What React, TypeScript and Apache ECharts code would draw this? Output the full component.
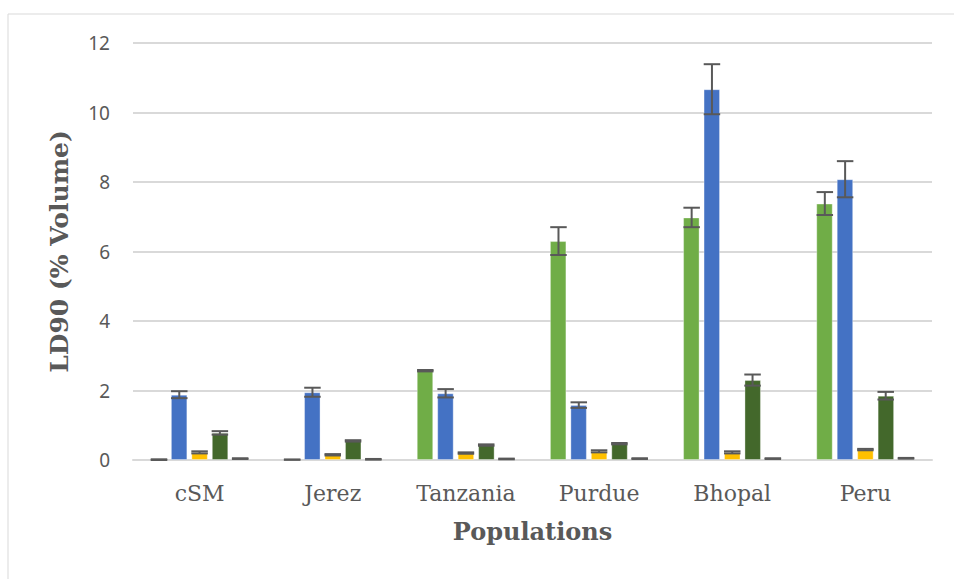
import React, { useEffect, useRef } from "react";
import * as echarts from "echarts";

// Populations on the category axis
const categories = ["cSM", "Jerez", "Tanzania", "Purdue", "Bhopal", "Peru"];

// LD90 means per treatment, one array per bar series
const seriesNames = ["Treatment 1", "Treatment 2", "Treatment 3", "Treatment 4", "Treatment 5"];
const treatment1 = [0.01, 0.01, 2.57, 6.3, 6.98, 7.38];
const treatment2 = [1.88, 1.95, 1.92, 1.58, 10.67, 8.08];
const treatment3 = [0.22, 0.15, 0.2, 0.25, 0.22, 0.3];
const treatment4 = [0.78, 0.55, 0.43, 0.47, 2.3, 1.85];
const treatment5 = [0.04, 0.02, 0.03, 0.04, 0.04, 0.05];

// Error bar half-lengths (same order as the means)
const error1 = [0.01, 0, 0.02, 0.4, 0.28, 0.33];
const error2 = [0.1, 0.13, 0.12, 0.08, 0.72, 0.52];
const error3 = [0.03, 0.02, 0.02, 0.03, 0.03, 0.02];
const error4 = [0.05, 0.02, 0.02, 0.02, 0.16, 0.11];
const error5 = [0.01, 0.01, 0.01, 0.01, 0.01, 0.01];

// Value axis ticks
const yTicks = [0, 2, 4, 6, 8, 10, 12];

const colors = ["#70AD47", "#4472C4", "#FFC000", "#43682B", "#636363"];
const BAR_WIDTH = 16.5;
const BAR_STEP = 20.3;

export default function App() {
  const ref = useRef<HTMLDivElement>(null);

  useEffect(() => {
    if (!ref.current) return;
    const chart = echarts.init(ref.current, null, { renderer: "svg" });

    const means = [treatment1, treatment2, treatment3, treatment4, treatment5];
    const errors = [error1, error2, error3, error4, error5];
    const nSeries = means.length;

    const barSeries = means.map((vals, i) => ({
      name: seriesNames[i],
      type: "bar",
      data: vals,
      barWidth: BAR_WIDTH,
      barGap: "24%",
      itemStyle: {
        color: colors[i],
        borderColor: "rgba(255,255,255,0.35)",
        borderWidth: 1,
      },
      z: 2,
    }));

    const errorData: number[][] = [];
    means.forEach((vals, s) => {
      vals.forEach((v, c) => {
        errorData.push([c, s, v, errors[s][c]]);
      });
    });

    const errorSeries = {
      type: "custom",
      name: "error",
      data: errorData,
      encode: { x: 0, y: 2 },
      z: 5,
      silent: true,
      renderItem: (params: any, api: any) => {
        const c = api.value(0);
        const s = api.value(1);
        const v = api.value(2);
        const e = api.value(3);
        const top = api.coord([c, v + e]);
        const bot = api.coord([c, Math.max(0, v - e)]);
        const x = top[0] + (s - (nSeries - 1) / 2) * BAR_STEP;
        const half = BAR_WIDTH / 2;
        const style = { stroke: "#595959", lineWidth: 2 };
        return {
          type: "group",
          children: [
            { type: "line", shape: { x1: x, y1: top[1], x2: x, y2: bot[1] }, style },
            { type: "line", shape: { x1: x - half, y1: top[1], x2: x + half, y2: top[1] }, style },
            { type: "line", shape: { x1: x - half, y1: bot[1], x2: x + half, y2: bot[1] }, style },
          ],
        };
      },
    };

    chart.setOption({
      animation: false,
      backgroundColor: "#ffffff",
      grid: { left: 133, right: 22, top: 43, bottom: 119, containLabel: false },
      graphic: [
        {
          type: "rect",
          shape: { x: 8, y: 14, width: 960, height: 580 },
          style: { fill: "none", stroke: "#D9D9D9", lineWidth: 1 },
          silent: true,
          z: -1,
        },
      ],
      xAxis: {
        type: "category",
        data: categories,
        name: "Populations",
        nameLocation: "middle",
        nameGap: 71,
        nameTextStyle: {
          fontFamily: "DejaVu Serif",
          fontWeight: "bold",
          fontSize: 24,
          color: "#595959",
          verticalAlign: "middle",
        },
        axisLine: { show: true, lineStyle: { color: "#D9D9D9", width: 2 } },
        axisTick: { show: false },
        axisLabel: {
          fontFamily: "DejaVu Serif",
          fontSize: 22,
          color: "#595959",
          margin: 22,
        },
      },
      yAxis: {
        type: "value",
        min: 0,
        max: yTicks[yTicks.length - 1],
        interval: yTicks[1] - yTicks[0],
        name: "LD90 (% Volume)",
        nameLocation: "middle",
        nameGap: 74,
        nameTextStyle: {
          fontFamily: "DejaVu Serif",
          fontWeight: "bold",
          fontSize: 25,
          color: "#595959",
          verticalAlign: "middle",
        },
        axisLine: { show: false },
        axisTick: { show: false },
        splitLine: { lineStyle: { color: "#D9D9D9", width: 2 } },
        axisLabel: {
          fontFamily: "Noto Sans",
          fontSize: 19,
          color: "#595959",
          margin: 23,
        },
      },
      series: [...barSeries, errorSeries],
    });

    return () => chart.dispose();
  }, []);

  return (
    <div
      ref={ref}
      style={{ position: "fixed", left: 0, top: 0, width: 954, height: 579 }}
    />
  );
}
